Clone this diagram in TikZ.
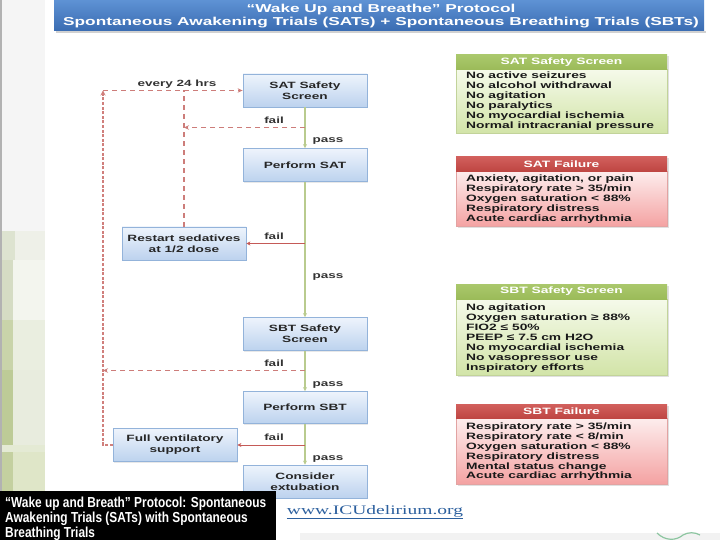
\documentclass[tikz,border=0pt]{standalone}
\usepackage{fontspec}
\setmainfont{Liberation Sans}
\newfontfamily\wf[FakeStretch=1.5]{Liberation Sans}
\newfontfamily\capf[FakeStretch=0.82]{Liberation Sans}
\newfontfamily\urlf[FakeStretch=1.5]{Liberation Serif}
\usetikzlibrary{arrows.meta,shadows}
\definecolor{bannerTop}{HTML}{5E92D4}
\definecolor{bannerBot}{HTML}{3A6CB2}
\definecolor{boxTop}{HTML}{EEF4FC}
\definecolor{boxBot}{HTML}{BCD2EE}
\definecolor{boxLine}{HTML}{93B3DA}
\definecolor{gHead}{HTML}{9BBB59}
\definecolor{gHeadTop}{HTML}{AAC86C}
\definecolor{gTop}{HTML}{F5FAEA}
\definecolor{gBot}{HTML}{D2E4A8}
\definecolor{gLine}{HTML}{C2D39A}
\definecolor{rHead}{HTML}{BE4542}
\definecolor{rHeadTop}{HTML}{D2605D}
\definecolor{rTop}{HTML}{FDEDED}
\definecolor{rBot}{HTML}{F4A2A2}
\definecolor{rLine}{HTML}{E2A3A2}
\definecolor{passLine}{HTML}{B9CB8E}
\definecolor{failRed}{HTML}{C55A57}
\definecolor{dashRed}{HTML}{CD7D7A}
\definecolor{dotRed}{HTML}{D07F7C}
\definecolor{urlBlue}{HTML}{2B5F9E}
\definecolor{labelGray}{HTML}{333333}
\definecolor{s1}{HTML}{DDE3D0}
\definecolor{s2}{HTML}{EEF0E8}
\definecolor{s3}{HTML}{D5DCC4}
\definecolor{s4}{HTML}{F3F5EE}
\definecolor{s5}{HTML}{C9D4AA}
\definecolor{s6}{HTML}{EAEEE0}
\definecolor{s7}{HTML}{BDCB97}
\definecolor{s8}{HTML}{E8ECDE}
\definecolor{s9}{HTML}{E4EAD4}
\definecolor{s10}{HTML}{C4D0A0}
\definecolor{s11}{HTML}{DFE6C8}
\definecolor{logoG}{HTML}{8CC5A0}
\tikzset{
  flowbox/.style={draw=boxLine, line width=0.8pt, top color=boxTop, bottom color=boxBot,
    minimum width=124pt, minimum height=33pt, align=center, inner sep=1pt,
    font=\wf\bfseries\fontsize{9.1}{11}\selectfont, text=black!85,
    drop shadow={opacity=0.18, shadow xshift=1pt, shadow yshift=-1.2pt}},
  lbl/.style={font=\wf\bfseries\fontsize{9}{11}\selectfont, text=labelGray, inner sep=0pt},
  passarrow/.style={draw=passLine, line width=1.4pt, -{Stealth[length=4pt,width=4pt]}},
  failarrow/.style={draw=failRed, line width=1pt, -{Stealth[length=4pt,width=4pt]}},
  dashline/.style={draw=dashRed, line width=1.1pt, dash pattern=on 5pt off 4pt},
  dotline/.style={draw=dotRed, line width=2.4pt, dash pattern=on 3pt off 1.6pt},
  headtxt/.style={font=\wf\bfseries\fontsize{9.2}{11}\selectfont, text=white, inner sep=0pt},
  listtxt/.style={font=\wf\bfseries\fontsize{9.2}{10}\selectfont, text=black!90, align=left, inner sep=0pt, anchor=base west},
}
\begin{document}
\begin{tikzpicture}[x=1pt,y=-1pt]
\useasboundingbox (0,0) rectangle (720,540);
\fill[white] (0,0) rectangle (720,540);
% left strip
\fill[black!4] (0,0) rectangle (45,231);
\fill[black!30] (0,0) rectangle (2,491);
\fill[s1] (2,231) rectangle (15,260);
\fill[s2] (15,231) rectangle (45,260);
\fill[s3] (2,260) rectangle (13,320);
\fill[s4] (13,260) rectangle (45,320);
\fill[s5] (2,320) rectangle (13,370);
\fill[s6] (13,320) rectangle (45,370);
\fill[s7] (2,370) rectangle (13,445);
\fill[s8] (13,370) rectangle (45,445);
\fill[s9] (2,445) rectangle (45,452);
\fill[s10] (2,452) rectangle (13,491);
\fill[s11] (13,452) rectangle (45,491);
% bottom band and logo trace
\fill[black!5] (300,533) rectangle (720,540);
\draw[logoG, line width=1.2pt] (657,533) .. controls (665,541) and (676,541) .. (683,535) .. controls (688,532) and (695,532) .. (700,535);
% banner
\fill[black!18] (56,31) rectangle (706,33.5);
\shade[top color=bannerTop, bottom color=bannerBot] (54,0) rectangle (704,31);
\node[font=\wf\bfseries\fontsize{11.5}{13.5}\selectfont, text=white, align=center, inner sep=0pt] (title) at (381,16)
  {“Wake Up and Breathe” Protocol\\Spontaneous Awakening Trials (SATs) + Spontaneous Breathing Trials (SBTs)};
% flow boxes
\node[flowbox] (sat) at (305,90.5) {SAT Safety\\Screen};
\node[flowbox] (psat) at (305,165) {Perform SAT};
\node[flowbox] (restart) at (184,243.5) {Restart sedatives\\at 1/2 dose};
\node[flowbox] (sbt) at (305,334) {SBT Safety\\Screen};
\node[flowbox, minimum height=32pt] (psbt) at (305,407.5) {Perform SBT};
\node[flowbox] (fvs) at (175,445) {Full ventilatory\\support};
\node[flowbox] (ext) at (305,481.5) {Consider\\extubation};
% coordinates for loops
\coordinate (loopTL) at (103,90.5);
\coordinate (innerTop) at (184,90.5);
\coordinate (satFail) at (305,127.5);
\coordinate (innerFail) at (184,127.5);
\coordinate (sbtFail) at (305,370.5);
\coordinate (outerFail) at (103,370.5);
% pass arrows
\draw[passarrow] (sat.south) -- (psat.north);
\draw[passarrow] (psat.south) -- (sbt.north);
\draw[passarrow] (sbt.south) -- (psbt.north);
\draw[passarrow] (psbt.south) -- (ext.north);
% fail solid arrows
\draw[failarrow] (psat.south |- restart.east) -- (restart.east);
\draw[failarrow] (psbt.south |- fvs.east) -- (fvs.east);
% dashed loops
\draw[dotline, -{Stealth[length=5pt,width=5pt]}] (fvs.west) -| (loopTL);
\draw[dashline, -{Stealth[length=5pt,width=4.5pt]}] (loopTL) -- (sat.west);
\draw[dashline] (restart.north) -- (innerTop);
\draw[dashline, -{Stealth[length=5pt,width=4.5pt]}] (satFail) -- (innerFail);
\draw[dashline, -{Stealth[length=5pt,width=4.5pt]}] (sbtFail) -- (outerFail);
% labels
\node[lbl] (l24) at (177,84) {every 24 hrs};
\node[lbl] (f1) at (274,120) {fail};
\node[lbl] (p1) at (328,141.5) {pass};
\node[lbl] (f2) at (274,236) {fail};
\node[lbl] (p2) at (328,277) {pass};
\node[lbl] (f3) at (274,363) {fail};
\node[lbl] (p3) at (328,385) {pass};
\node[lbl] (f4) at (274,437) {fail};
\node[lbl] (p4) at (328,459) {pass};
% SAT safety screen
\fill[black!12] (457.5,56.5) rectangle (668.5,134.5);
\shade[top color=gTop, bottom color=gBot] (456,69.5) rectangle (667,133);
\draw[gLine, line width=0.6pt] (456,69.5) rectangle (667,133);
\shade[top color=gHeadTop, bottom color=gHead] (456,55) rectangle (667,69.5);
\node[headtxt] (h1) at (561.5,62.3) {SAT Safety Screen};
\node[listtxt] (b1) at (466,128.8) {No active seizures\\No alcohol withdrawal\\No agitation\\No paralytics\\No myocardial ischemia\\Normal intracranial pressure};
% SAT failure
\fill[black!12] (457.5,158) rectangle (668.5,228);
\shade[top color=rTop, bottom color=rBot] (456,171.5) rectangle (667,226.5);
\draw[rLine, line width=0.6pt] (456,171.5) rectangle (667,226.5);
\shade[top color=rHeadTop, bottom color=rHead] (456,156.5) rectangle (667,171.5);
\node[headtxt] (h2) at (561.5,164) {SAT Failure};
\node[listtxt] (b2) at (466,221.6) {Anxiety, agitation, or pain\\Respiratory rate > 35/min\\Oxygen saturation < 88\%\\Respiratory distress\\Acute cardiac arrhythmia};
% SBT safety screen
\fill[black!12] (457.5,285.5) rectangle (668.5,376.5);
\shade[top color=gTop, bottom color=gBot] (456,299) rectangle (667,375);
\draw[gLine, line width=0.6pt] (456,299) rectangle (667,375);
\shade[top color=gHeadTop, bottom color=gHead] (456,284) rectangle (667,299);
\node[headtxt] (h3) at (561.5,291.5) {SBT Safety Screen};
\node[listtxt] (b3) at (466,370) {No agitation\\Oxygen saturation ≥ 88\%\\FIO2 ≤ 50\%\\PEEP ≤ 7.5 cm H2O\\No myocardial ischemia\\No vasopressor use\\Inspiratory efforts};
% SBT failure
\fill[black!12] (457.5,405.5) rectangle (668.5,485.5);
\shade[top color=rTop, bottom color=rBot] (456,418.5) rectangle (667,484);
\draw[rLine, line width=0.6pt] (456,418.5) rectangle (667,484);
\shade[top color=rHeadTop, bottom color=rHead] (456,404) rectangle (667,418.5);
\node[headtxt] (h4) at (561.5,411.3) {SBT Failure};
\node[listtxt, font=\wf\bfseries\fontsize{9.2}{9.8}\selectfont] (b4) at (466,478.8) {Respiratory rate > 35/min\\Respiratory rate < 8/min\\Oxygen saturation < 88\%\\Respiratory distress\\Mental status change\\Acute cardiac arrhythmia};
% url
\node[font=\urlf\fontsize{13}{15}\selectfont, text=urlBlue, inner sep=0pt] (url) at (375,512) {\underline{www.ICUdelirium.org}};
% caption
\fill[black] (0,491) rectangle (276,540);
\node[font=\capf\bfseries\fontsize{14.5}{15}\selectfont, text=white, align=left, inner sep=0pt, anchor=base west] (cap) at (5,537)
  {“Wake up and Breath” Protocol: Spontaneous\\Awakening Trials (SATs) with Spontaneous\\Breathing Trials};
\end{tikzpicture}
\end{document}
